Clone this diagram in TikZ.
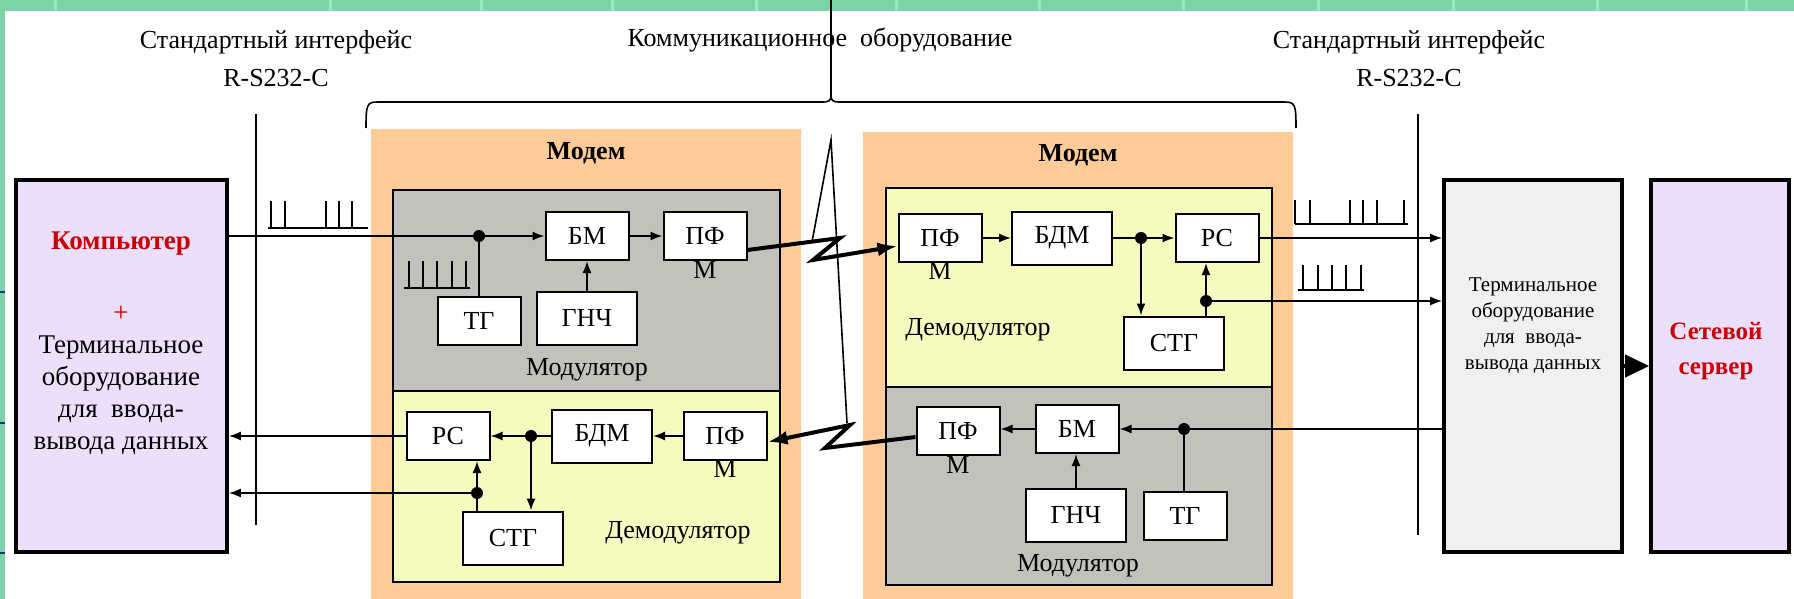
\documentclass[tikz,border=0pt]{standalone}
\usepackage{fontspec}
\setmainfont{Liberation Serif}
\usetikzlibrary{arrows.meta,calc}

\definecolor{modemfill}{RGB}{255,203,153}
\definecolor{modgrey}{RGB}{194,194,188}
\definecolor{demyellow}{RGB}{245,250,190}
\definecolor{lilac}{RGB}{236,223,252}
\definecolor{termgrey}{RGB}{240,240,240}
\definecolor{band}{RGB}{126,210,168}
\definecolor{bandsep}{RGB}{150,234,192}
\definecolor{titlered}{RGB}{204,0,0}
\definecolor{navy}{RGB}{20,50,140}

\begin{document}
\begin{tikzpicture}[x=0.5pt, y=-0.5pt,
  every node/.style={font=\fontsize{13}{16}\selectfont},
  blk/.style={draw, fill=white, line width=1pt, inner sep=0pt, minimum width=41.5pt, minimum height=24pt},
  wblk/.style={blk, minimum width=50pt, minimum height=26.5pt},
  bigbox/.style={draw, line width=1.8pt, inner sep=0pt, minimum height=186pt},
  junct/.style={circle, fill, inner sep=0pt, minimum size=6pt},
  wire/.style={line width=0.9pt},
  sig/.style={wire, -{Latex[length=6pt,width=4.5pt]}},
  bolt/.style={line width=2pt, line join=miter, -{Latex[length=10pt,width=7pt]}},
  pulse/.style={line width=0.8pt}]
\useasboundingbox (0,0) rectangle (1794,599);

\fill[band] (0,0) rectangle (1794,11);
\fill[band] (0,0) rectangle (5,599);
\foreach \x in {54,329,480,611,755,895,1038,1182,1317,1452,1596,1745} \fill[bandsep] (\x,0) rectangle ++(3,11);
\foreach \y in {292,423,553} \draw[navy, line width=0.8pt] (0,\y) -- (5,\y);

\node[align=center, font=\fontsize{13}{19}\selectfont] (ifl) at (276,59) {Стандартный интерфейс\\R-S232-C};
\node (comm) at (820,40) {Коммуникационное\ \ оборудование};
\node[align=center, font=\fontsize{13}{19}\selectfont] (ifr) at (1409,59) {Стандартный интерфейс\\R-S232-C};

\draw[line width=0.8pt] (366,128) .. controls (366,104) and (367,102) .. (378,102) -- (822,102)
  .. controls (829,102) and (831,101) .. (831,95) .. controls (831,101) and (833,102) .. (840,102)
  -- (1284,102) .. controls (1295,102) and (1296,104) .. (1296,128);
\draw[line width=0.6pt] (831,95) -- (831,0);

\draw[wire] (256,114) -- (256,525);
\draw[wire] (1418,114) -- (1418,535);

\fill[modemfill] (371,129) rectangle (801,599);
\fill[modemfill] (863,132) rectangle (1293,599);
\draw[line width=1pt, fill=modgrey] (393,190) rectangle (780,391);
\draw[line width=1pt, fill=demyellow] (393,391) rectangle (780,582);
\draw[line width=1pt, fill=demyellow] (886,188) rectangle (1272,387);
\draw[line width=1pt, fill=modgrey] (886,387) rectangle (1272,585);

\node (mdm1) at (586,153) {\bfseries Модем};
\node (mdm2) at (1078,155) {\bfseries Модем};
\node (modl1) at (587,370) {Модулятор};
\node (deml1) at (678,533) {Демодулятор};
\node (deml2) at (978,330) {Демодулятор};
\node (modl2) at (1078,566) {Модулятор};

\node[bigbox, fill=lilac, minimum width=105.5pt] (comp) at (121.5,366) {};
\node[bigbox, fill=termgrey, minimum width=89pt] (term) at (1533,366) {};
\node[bigbox, fill=lilac, minimum width=69pt] (srv) at (1720,366) {};
\node[align=center, font=\fontsize{13.5}{16}\selectfont] (comptxt) at (121,343)
  {{\color{titlered}\bfseries Компьютер}\\[20pt]{\color{titlered}+}\\Терминальное\\оборудование\\для\ \ ввода-\\вывода данных};
\node[align=center, font=\fontsize{10.5}{13}\selectfont] (termtxt) at (1533,326) {Терминальное\\оборудование\\для\ \ ввода-\\вывода данных};
\node[align=center, font=\fontsize{12.5}{17.5}\selectfont\bfseries, text=titlered] (srvtxt) at (1716,351) {Сетевой\\сервер};

% modem 1
\node[blk] (bm1) at (587,236) {БМ};
\node[blk] (pf1) at (705,236) {ПФ};
\node (pf1m) at (705,270) {М};
\node[blk] (tg1) at (479,321) {ТГ};
\node[wblk] (gn1) at (587,318) {ГНЧ};
\node[blk] (rc1) at (448,436) {РС};
\node[wblk] (bd1) at (602,436) {БДМ};
\node[blk] (pf3) at (725,436) {ПФ};
\node (pf3m) at (725,469) {М};
\node[wblk] (st1) at (513,538) {СТГ};

% modem 2
\node[blk] (pf2) at (940,238) {ПФ};
\node (pf2m) at (940,271) {М};
\node[wblk] (bd2) at (1062,238) {БДМ};
\node[blk] (rc2) at (1217,238) {РС};
\node[wblk] (st2) at (1174,343) {СТГ};
\node[blk] (pf4) at (958,431) {ПФ};
\node (pf4m) at (958,465) {М};
\node[blk] (bm2) at (1077,429) {БМ};
\node[wblk] (gn2) at (1076,515) {ГНЧ};
\node[blk] (tg2) at (1185,516) {ТГ};

\foreach \x in {271,285,326,339,352} \draw[pulse] (\x,201) -- (\x,228);
\draw[pulse] (268,228) -- (368,228);
\foreach \x in {409,423,437,452,466} \draw[pulse] (\x,261) -- (\x,288);
\draw[pulse] (404,288) -- (470,288);
\foreach \x in {1295,1310,1350,1363,1377,1404} \draw[pulse] (\x,200) -- (\x,224);
\draw[pulse] (1295,224) -- (1408,224);
\foreach \x in {1303,1318,1332,1346,1361} \draw[pulse] (\x,265) -- (\x,290);
\draw[pulse] (1298,290) -- (1364,290);

\draw[sig] (comp.east |- bm1.west) -- (bm1.west);
\node[junct] (d1) at (tg1.north |- bm1.west) {};
\draw[wire] (d1) -- (tg1.north);
\draw[sig] (bm1) -- (pf1);
\draw[sig] (gn1) -- (bm1);
\draw[sig] (pf3) -- (bd1);
\node[junct] (d2) at (531,436) {};
\draw[wire] (bd1.west) -- (d2);
\draw[sig] (d2) -- (rc1.east);
\draw[sig] (d2) -- (d2 |- st1.north);
\node[junct] (d3) at (477,493) {};
\draw[sig] (st1.north -| d3) -- (rc1.south -| d3);
\draw[sig] (d3) -- (comp.east |- d3);
\draw[sig] (rc1.west) -- (comp.east |- rc1.west);

\draw[sig] (pf2) -- (bd2);
\node[junct] (d4) at (1141,238) {};
\draw[wire] (bd2.east) -- (d4);
\draw[sig] (d4) -- (rc2.west);
\draw[sig] (d4) -- (d4 |- st2.north);
\node[junct] (d5) at (1206,301) {};
\draw[sig] (st2.north -| d5) -- (rc2.south -| d5);
\draw[sig] (d5) -- (term.west |- d5);
\draw[sig] (rc2.east) -- (term.west |- rc2.east);
\node[junct] (d6) at (1184,429) {};
\draw[wire] (term.west |- d6) -- (d6);
\draw[sig] (d6) -- (bm2.east);
\draw[wire] (d6) -- (d6 |- tg2.north);
\draw[sig] (gn2.north) -- (gn2.north |- bm2.south);
\draw[sig] (bm2.west) -- (bm2.west -| pf4.east);

\draw[line width=2pt, -{Triangle[length=12pt,width=11pt]}] (term) -- (srv);

\coordinate (z1) at (840,238);
\coordinate (z2) at (813,260);
\coordinate (z3) at (825,448);
\coordinate (z4) at (850,425);
\coordinate (sp) at (831,140);
\draw[line width=0.8pt] (812,242) -- (sp) -- (847,423);
\draw[bolt] ($(pf1.east)+(0,14)$) -- (z1) -- (z2) -- ($(pf2.west)+(0,8)$);
\draw[bolt] ($(pf4.west)+(0,6)$) -- (z3) -- (z4) -- ($(pf3.east)+(0,6)$);
\end{tikzpicture}
\end{document}
